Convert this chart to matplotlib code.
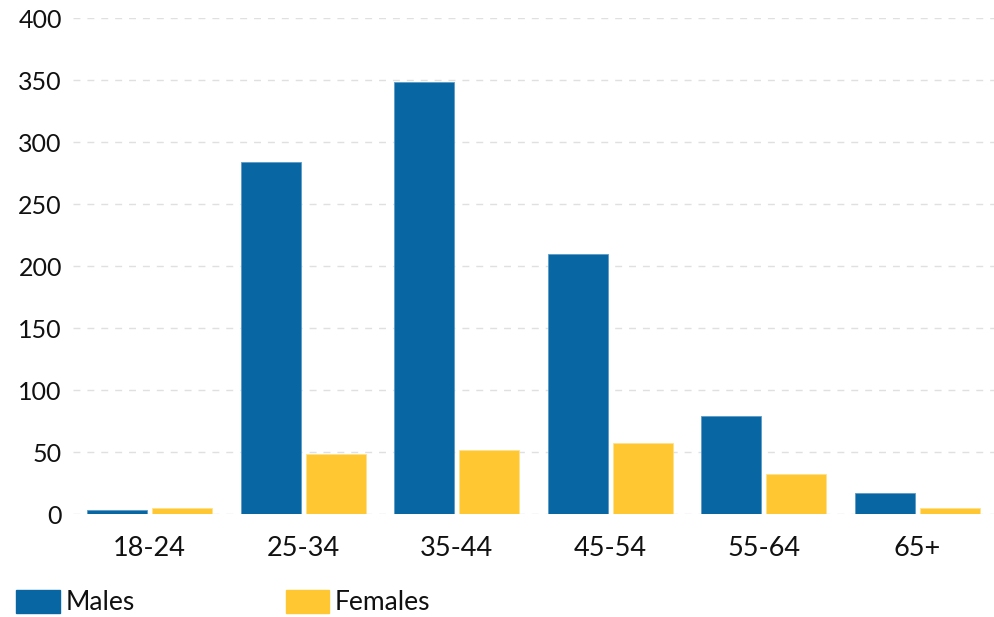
import matplotlib
matplotlib.use("Agg")
import matplotlib.pyplot as plt
import matplotlib.patches as mpatch
import numpy as np

plt.rcParams['font.family'] = ['Lato', 'DejaVu Sans']

age_groups = ['18-24', '25-34', '35-44', '45-54', '55-64', '65+']
males = [3, 284, 348, 210, 79, 17]
females = [5, 48, 52, 57, 32, 5]
yticks = [0, 50, 100, 150, 200, 250, 300, 350, 400]

blue = '#0866a3'
yellow = '#ffc832'

fig = plt.figure(figsize=(9.95, 6.17), dpi=100)
ax = fig.add_axes([73/995, 1-514/617, (994-73)/995, 496/617])

x = np.arange(len(age_groups))
w = 0.39
gap = 0.017
ax.bar(x - w/2 - gap, males, w, color=blue, edgecolor='#5b9bc8', linewidth=0.6, zorder=2)
ax.bar(x + w/2 + gap, females, w, color=yellow, edgecolor='#ffe08a', linewidth=0.6, zorder=2)

ax.set_xlim(-0.5, len(age_groups) - 0.5)
ax.set_ylim(0, 400)
ax.set_yticks(yticks)
ax.set_xticks(x)
ax.set_xticklabels(age_groups)
ax.yaxis.grid(True, linestyle=(0, (5, 5)), color='#e0e0e0', linewidth=1, zorder=0)
ax.set_axisbelow(True)
for s in ax.spines.values():
    s.set_visible(False)
ax.tick_params(axis='both', length=0, labelsize=18, colors='#111111')
ax.tick_params(axis='x', pad=16, labelsize=19.5)
ax.tick_params(axis='y', pad=8)

# legend drawn by hand along the bottom
fig.patches.append(mpatch.Rectangle((16/995, 1-613/617), 44/995, 23/617,
                                    transform=fig.transFigure, color=blue))
fig.text(66/995, 1-603/617, 'Males', fontsize=19, va='center', ha='left', color='#111111')
fig.patches.append(mpatch.Rectangle((286/995, 1-613/617), 43/995, 23/617,
                                    transform=fig.transFigure, color=yellow))
fig.text(335/995, 1-603/617, 'Females', fontsize=19, va='center', ha='left', color='#111111')

fig.savefig('out.png', dpi=100)
